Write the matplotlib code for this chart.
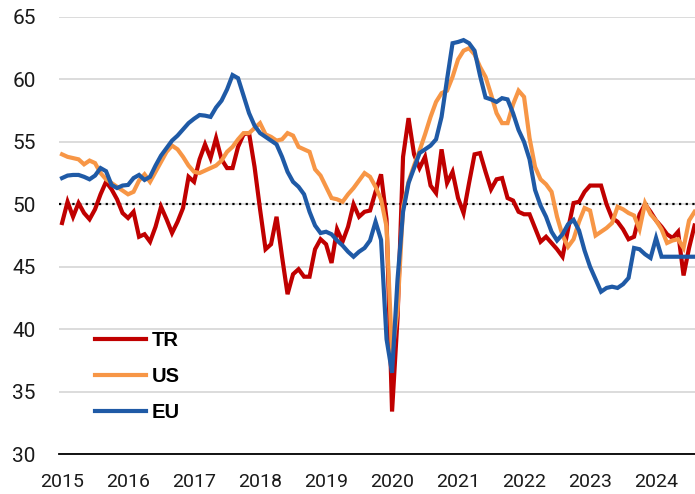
import matplotlib.pyplot as plt
import numpy as np

# PMI series, one value per month (first point under the 2015 label)
tr = [48.5, 50.2, 49.0, 50.1, 49.3, 48.8, 49.6, 50.8, 51.8, 51.2,
      50.4, 49.3, 48.9, 49.4, 47.4, 47.6, 47.0, 48.2, 49.8, 48.8,
      47.7, 48.6, 49.7, 52.2, 51.8, 53.6, 54.8, 53.7, 55.3, 53.6,
      52.9, 52.9, 54.6, 55.6, 55.7, 53.0, 49.6, 46.4, 46.8, 49.0,
      45.8, 42.8, 44.4, 44.8, 44.2, 44.2, 46.4, 47.2, 46.8, 45.3,
      48.0, 47.0, 48.2, 50.0, 49.0, 49.4, 49.5, 51.0, 52.4, 48.8,
      33.4, 40.9, 53.8, 56.9, 54.0, 52.9, 53.8, 51.5, 50.9, 54.4,
      51.7, 52.6, 50.5, 49.3, 51.7, 54.0, 54.1, 52.6, 51.2, 52.0,
      52.1, 50.5, 50.3, 49.4, 49.2, 49.2, 48.1, 47.0, 47.4, 46.9,
      46.4, 45.8, 48.0, 50.1, 50.2, 51.0, 51.5, 51.5, 51.5, 50.0,
      48.9, 48.6, 48.0, 47.2, 47.4, 49.2, 50.0, 49.4, 48.7, 48.2,
      47.6, 47.3, 47.8, 44.3, 46.5, 48.3]
us = [54.0, 53.8, 53.7, 53.6, 53.2, 53.5, 53.3, 52.5, 52.0, 51.7,
      51.4, 51.1, 50.8, 51.0, 51.9, 52.4, 51.8, 52.6, 53.4, 54.2,
      54.7, 54.4, 53.8, 53.1, 52.6, 52.5, 52.7, 52.9, 53.1, 53.5,
      54.2, 54.6, 55.2, 55.7, 55.7, 56.1, 56.5, 55.6, 55.4, 55.1,
      55.2, 55.7, 55.5, 54.6, 54.4, 54.2, 52.8, 52.3, 51.4, 50.5,
      50.4, 50.2, 50.8, 51.3, 51.9, 52.5, 52.2, 51.4, 50.4, 48.2,
      38.0, 41.5, 49.8, 51.8, 53.1, 54.3, 55.6, 57.0, 58.2, 58.9,
      59.1, 60.2, 61.6, 62.3, 62.5, 62.0, 61.0, 60.2, 58.8, 57.3,
      56.5, 56.5, 58.0, 59.1, 58.6, 55.3, 53.0, 52.0, 51.6, 51.0,
      49.0, 47.5, 46.6, 47.2, 48.6, 49.7, 49.5, 47.5, 47.8, 48.1,
      48.5, 49.8, 49.6, 49.3, 49.1, 48.0, 50.1, 49.2, 48.7, 48.0,
      46.9, 47.1, 47.2, 46.5, 48.7, 49.4]
eu = [52.1, 52.3, 52.35, 52.35, 52.2, 52.0, 52.3, 52.9, 52.65, 51.55,
      51.3, 51.5, 51.55, 52.1, 52.35, 51.95, 52.2, 53.1, 53.9, 54.5,
      55.1, 55.5, 56.0, 56.5, 56.85, 57.15, 57.1, 57.0, 57.75, 58.3,
      59.2, 60.35, 60.1, 58.7, 57.3, 56.3, 55.7, 55.4, 55.1, 54.8,
      53.8, 52.6, 51.8, 51.4, 50.8, 49.4, 48.3, 47.7, 47.8, 47.6,
      47.1, 46.7, 46.2, 45.8, 46.2, 46.5, 47.1, 48.6, 47.15, 39.2,
      36.5, 44.0, 49.4, 51.7, 52.9, 54.1, 54.4, 54.7, 55.2, 57.0,
      60.0, 62.9, 63.0, 63.15, 62.9, 62.3, 60.3, 58.55, 58.4, 58.2,
      58.5, 58.4, 57.3, 55.95, 55.0, 53.6, 51.15, 49.9, 49.0, 47.8,
      47.1, 47.6, 48.4, 48.75, 47.9, 46.3, 45.0, 44.0, 43.0, 43.3,
      43.4, 43.3, 43.6, 44.1, 46.5, 46.4, 46.0, 45.7, 47.3, 45.8,
      45.8, 45.8, 45.8, 45.8, 45.8, 45.8]
years = ['2015', '2016', '2017', '2018', '2019', '2020', '2021', '2022', '2023', '2024']

plt.rcParams['font.family'] = ['Roboto', 'DejaVu Sans']
fig = plt.figure(figsize=(6.95, 4.94), dpi=100)
ax = fig.add_axes([59.3 / 695, 40 / 494, 638 / 695, 437 / 494])

x = np.arange(len(tr))
ax.plot(x, tr, color='#C00000', lw=3, label='TR', solid_joinstyle='miter', zorder=3)
ax.plot(x, us, color='#F79646', lw=3, label='US', solid_joinstyle='miter', zorder=3)
ax.plot(x, eu, color='#1F5AA6', lw=3, label='EU', solid_joinstyle='miter', zorder=3)
ax.axhline(50, color='black', lw=1.6, ls=(0, (1, 2)), zorder=2)

ax.set_xlim(-0.5, 115.5)
ax.set_ylim(30, 65)
ax.set_yticks(range(30, 66, 5))
ax.set_xticks(range(0, 12 * len(years), 12))
ax.set_xticklabels(years)
ax.yaxis.grid(True, color='#D9D9D9', lw=1.3)
ax.set_axisbelow(True)
for s in ['top', 'right', 'left']:
    ax.spines[s].set_visible(False)
ax.spines['bottom'].set_color('black')
ax.spines['bottom'].set_linewidth(1.3)
ax.tick_params(axis='y', length=0, pad=17, labelsize=15, labelcolor='#1a1a1a')
ax.tick_params(axis='x', length=0, pad=14, labelsize=14, labelcolor='#1a1a1a')

leg = ax.legend(loc='upper left', bbox_to_anchor=(0.056, 0.281), frameon=False,
                borderpad=0, borderaxespad=0, handlelength=2.55, handletextpad=0.25,
                labelspacing=0.85, prop={'family': 'Liberation Sans', 'weight': 'bold', 'size': 14.5})
for l in leg.get_lines():
    l.set_linewidth(3)

plt.savefig('out.png', dpi=100)
